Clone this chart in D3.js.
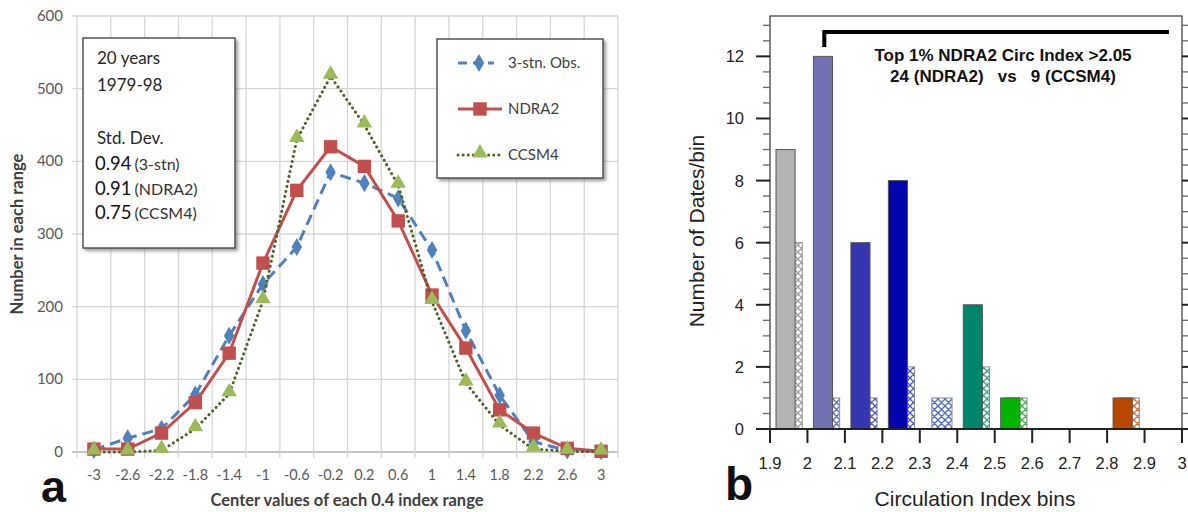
<!DOCTYPE html>
<html>
<head>
<meta charset="utf-8">
<script src="https://cdnjs.cloudflare.com/ajax/libs/d3/7.8.5/d3.min.js"></script>
<style>
  body { margin: 0; background: #fff; }
</style>
</head>
<body>
<div id="chart"></div>
<script>

// ---------------- DATA (panel a) ----------------
var categories = ['-3', '-2.6', '-2.2', '-1.8', '-1.4', '-1', '-0.6', '-0.2', '0.2', '0.6', '1', '1.4', '1.8', '2.2', '2.6', '3'];
var obsValues = [3, 19, 32, 79, 160, 231, 282, 385, 370, 349, 278, 167, 78, 14, 2, 1];
var ndra2Values = [4, 4, 26, 68, 136, 260, 360, 420, 393, 318, 216, 143, 58, 26, 5, 1];
var ccsm4Values = [0, 0, 2, 32, 80, 208, 430, 517, 450, 367, 207, 95, 37, 4, 1, 0];
var seriesNames = ['3-stn. Obs.', 'NDRA2', 'CCSM4'];
var leftYTicks = [0, 100, 200, 300, 400, 500, 600];
var boxLines = ['20 years', '1979-98', '', 'Std. Dev.'];
var stdDevValues = ['0.94', '0.91', '0.75'];
var stdDevNames = ['(3-stn)', '(NDRA2)', '(CCSM4)'];

// ---------------- DATA (panel b) ----------------
var binStarts = [1.9, 2.0, 2.1, 2.2, 2.3, 2.4, 2.5, 2.8];
var ndra2Counts = [9, 12, 6, 8, 0, 4, 1, 1];
var ccsm4Counts = [6, 1, 1, 2, 1, 2, 1, 1];
var rightXTicks = [1.9, 2.0, 2.1, 2.2, 2.3, 2.4, 2.5, 2.6, 2.7, 2.8, 2.9, 3.0];
var rightXLabels = ['1.9', '2', '2.1', '2.2', '2.3', '2.4', '2.5', '2.6', '2.7', '2.8', '2.9', '3'];
var rightYTicks = [0, 2, 4, 6, 8, 10, 12];
var bracketRange = [2.045, 2.965];
var noteLines = ['Top 1% NDRA2 Circ Index >2.05', '24 (NDRA2)   vs   9 (CCSM4)'];

// Exposed variables
var attrs = {
  svgWidth: 1188,
  svgHeight: 512,
  leftFont: 'Lato, "Open Sans", sans-serif',
  rightFont: '"Liberation Sans", Arial, sans-serif',
  gridColor: '#d6d6d6',
  leftTextFill: '#595959',
  seriesColors: ['#4f81bd', '#c0504d', '#9bbb59'],
  lineColors: ['#4f81bd', '#c0504d', '#4f6228'],
  lineDash: ['11,6', null, '0.1,5'],
  barColors: ['#b3b3b3', '#7272b2', '#3535b0', '#0404ae', '#4a6cc4', '#00846a', '#00b400', '#b84800'],
  hatchColors: ['#a0a0a0', '#5a66c2', '#4a58c0', '#4a58c0', '#4a6cc4', '#3aa07e', '#3cb43c', '#c8703e']
};

//----------- PROTOTYPE FUNCTIONS ----------------------
d3.selection.prototype.patternify = function (params) {
  var container = this;
  var selector = params.selector;
  var elementTag = params.tag;
  var data = params.data || [selector];

  var selection = container.selectAll('.' + selector).data(data, (d, i) => i);
  selection.exit().remove();
  selection = selection.enter().append(elementTag).merge(selection);
  selection.attr('class', selector);
  return selection;
};

var svg = d3.select('#chart').patternify({ tag: 'svg', selector: 'svg-chart-container' })
  .attr('width', attrs.svgWidth)
  .attr('height', attrs.svgHeight);

var defs = svg.patternify({ tag: 'defs', selector: 'defs' });

// drop shadow for the excel boxes
var shadow = defs.patternify({ tag: 'filter', selector: 'shadow' })
  .attr('id', 'shadow')
  .attr('x', '-10%').attr('y', '-10%').attr('width', '130%').attr('height', '130%');
shadow.patternify({ tag: 'feDropShadow', selector: 'drop' })
  .attr('dx', 2.5).attr('dy', 2.5).attr('stdDeviation', 1.8)
  .attr('flood-color', '#777').attr('flood-opacity', 0.7);

//######################## PANEL A ########################
drawLeft();

function drawLeft() {
  var calc = {};
  calc.left = 77;
  calc.right = 618;
  calc.top = 16;
  calc.bottom = 452;

  var scales = {};
  scales.x = d3.scaleBand().domain(categories).range([calc.left, calc.right]);
  scales.y = d3.scaleLinear().domain([0, 600]).range([calc.bottom, calc.top]);

  var chart = svg.patternify({ tag: 'g', selector: 'left-chart' })
    .attr('font-family', attrs.leftFont);

  //horizontal grid
  chart.patternify({ tag: 'line', selector: 'h-grid', data: leftYTicks })
    .attr('x1', calc.left - 5).attr('x2', calc.right)
    .attr('y1', d => scales.y(d)).attr('y2', d => scales.y(d))
    .attr('stroke', d => d === 0 ? '#b0b0b0' : attrs.gridColor)
    .attr('stroke-width', 1.3);

  //vertical grid on category boundaries
  var bounds = categories.map(c => scales.x(c)).concat([calc.right]);
  chart.patternify({ tag: 'line', selector: 'v-grid', data: bounds })
    .attr('x1', d => d).attr('x2', d => d)
    .attr('y1', calc.top).attr('y2', calc.bottom + 6)
    .attr('stroke', attrs.gridColor)
    .attr('stroke-width', 1.3);

  //y labels
  chart.patternify({ tag: 'text', selector: 'y-label', data: leftYTicks })
    .attr('x', 63).attr('y', d => scales.y(d) + 5)
    .attr('text-anchor', 'end')
    .attr('font-size', 15)
    .attr('fill', attrs.leftTextFill)
    .text(d => d);

  //x labels
  chart.patternify({ tag: 'text', selector: 'x-label', data: categories })
    .attr('x', d => scales.x(d) + scales.x.bandwidth() / 2)
    .attr('y', 480)
    .attr('text-anchor', 'middle')
    .attr('font-size', 14.5)
    .attr('fill', attrs.leftTextFill)
    .text(d => d);

  //axis titles
  chart.patternify({ tag: 'text', selector: 'y-title' })
    .attr('transform', 'translate(23,234) rotate(-90)')
    .attr('text-anchor', 'middle')
    .attr('font-size', 16.5)
    .attr('font-weight', 'bold')
    .attr('fill', '#404040')
    .text('Number in each range');

  chart.patternify({ tag: 'text', selector: 'x-title' })
    .attr('x', 347).attr('y', 506)
    .attr('text-anchor', 'middle')
    .attr('font-size', 16.5)
    .attr('font-weight', 'bold')
    .attr('fill', '#404040')
    .text('Center values of each 0.4 index range');

  chart.patternify({ tag: 'text', selector: 'panel-label' })
    .attr('x', 41).attr('y', 501.5)
    .attr('font-family', attrs.rightFont)
    .attr('font-size', 45)
    .attr('font-weight', 'bold')
    .attr('fill', '#111')
    .text('a');

  //series
  var symbols = [d3.symbolDiamond, d3.symbolSquare, d3.symbolTriangle];
  var symbolSizes = [95, 180, 105];
  var series = [obsValues, ndra2Values, ccsm4Values].map((values, i) => ({ values: values, index: i }));

  var line = d3.line()
    .x((d, i) => scales.x(categories[i]) + scales.x.bandwidth() / 2)
    .y(d => scales.y(d));

  var seriesGroups = chart.patternify({ tag: 'g', selector: 'series', data: series });

  seriesGroups.patternify({ tag: 'path', selector: 'series-line', data: d => [d] })
    .attr('d', d => line(d.values))
    .attr('fill', 'none')
    .attr('stroke', d => attrs.lineColors[d.index])
    .attr('stroke-width', 3)
    .attr('stroke-linecap', d => d.index === 2 ? 'round' : 'butt')
    .attr('stroke-dasharray', d => attrs.lineDash[d.index]);

  seriesGroups.patternify({ tag: 'path', selector: 'marker', data: d => d.values.map(v => ({ v: v, index: d.index })) })
    .attr('transform', (d, i) => 'translate(' + (scales.x(categories[i]) + scales.x.bandwidth() / 2) + ',' + (scales.y(d.v) - (d.index === 2 ? 2 : 0)) + ')')
    .attr('d', d => d3.symbol().type(symbols[d.index]).size(symbolSizes[d.index])())
    .attr('fill', d => attrs.seriesColors[d.index]);

  //text box
  chart.patternify({ tag: 'rect', selector: 'info-box' })
    .attr('x', 83).attr('y', 38).attr('width', 152).attr('height', 210)
    .attr('fill', '#fff').attr('stroke', '#3a3a3a').attr('stroke-width', 1.3)
    .attr('filter', 'url(#shadow)');

  chart.patternify({ tag: 'text', selector: 'info-line', data: boxLines })
    .attr('x', 97).attr('y', (d, i) => 64 + i * 26.5)
    .attr('font-size', 17)
    .attr('fill', '#262626')
    .text(d => d);

  var sdText = chart.patternify({ tag: 'text', selector: 'sd-line', data: stdDevValues })
    .attr('x', 95).attr('y', (d, i) => 170 + i * 24.5)
    .attr('fill', '#111');
  sdText.patternify({ tag: 'tspan', selector: 'sd-val', data: d => [d] })
    .attr('font-size', 18.5).text(d => d);
  sdText.patternify({ tag: 'tspan', selector: 'sd-name', data: (d, i) => [stdDevNames[i]] })
    .attr('font-size', 16).attr('fill', '#333').attr('dx', 3).text(d => d);

  //legend
  chart.patternify({ tag: 'rect', selector: 'legend-box' })
    .attr('x', 437).attr('y', 39).attr('width', 166).attr('height', 139)
    .attr('fill', '#fff').attr('stroke', '#3a3a3a').attr('stroke-width', 1.3)
    .attr('filter', 'url(#shadow)');

  var legendItems = chart.patternify({ tag: 'g', selector: 'legend-item', data: seriesNames })
    .attr('transform', (d, i) => 'translate(0,' + (63 + i * 46) + ')');

  legendItems.patternify({ tag: 'line', selector: 'legend-line', data: (d, i) => [i] })
    .attr('x1', 458).attr('x2', d => d === 0 ? 494 : 502)
    .attr('stroke', d => attrs.lineColors[d])
    .attr('stroke-width', 3)
    .attr('stroke-linecap', d => d === 2 ? 'round' : 'butt')
    .attr('stroke-dasharray', d => d === 0 ? '9,6' : attrs.lineDash[d]);

  legendItems.patternify({ tag: 'path', selector: 'legend-marker', data: (d, i) => [i] })
    .attr('transform', d => 'translate(' + (d === 0 ? 479 : 480) + ',' + (d === 2 ? -2 : 0) + ')')
    .attr('d', d => d3.symbol().type(symbols[d]).size(symbolSizes[d])())
    .attr('fill', d => attrs.seriesColors[d]);

  legendItems.patternify({ tag: 'text', selector: 'legend-text', data: d => [d] })
    .attr('x', 508).attr('y', 5)
    .attr('font-size', 15)
    .attr('fill', '#404040')
    .text(d => d);
}

//######################## PANEL B ########################
drawRight();

function drawRight() {
  var calc = {};
  calc.left = 770;
  calc.right = 1182;
  calc.top = 16;
  calc.bottom = 429;
  calc.solidFrom = 0.016;
  calc.solidTo = 0.067;
  calc.hatchFrom = 0.032;
  calc.hatchTo = 0.086;

  var scales = {};
  scales.x = d3.scaleLinear().domain([1.9, 3.0]).range([calc.left, calc.right]);
  scales.y = d3.scaleLinear().domain([0, 13.3]).range([calc.bottom, calc.top]);

  var chart = svg.patternify({ tag: 'g', selector: 'right-chart' })
    .attr('font-family', attrs.rightFont);

  //hatch patterns
  var patterns = defs.patternify({ tag: 'pattern', selector: 'hatch', data: attrs.hatchColors })
    .attr('id', (d, i) => 'hatch' + i)
    .attr('patternUnits', 'userSpaceOnUse')
    .attr('width', 7).attr('height', 7);
  patterns.patternify({ tag: 'rect', selector: 'hatch-bg', data: d => [d] })
    .attr('width', 7).attr('height', 7).attr('fill', '#fff');
  patterns.patternify({ tag: 'path', selector: 'hatch-lines', data: d => [d] })
    .attr('d', 'M0,0L7,7M7,0L0,7M-1,6L1,8M6,-1L8,1M-1,1L1,-1M6,8L8,6')
    .attr('stroke', d => d)
    .attr('stroke-width', 1.3);

  var bins = binStarts.map((b, i) => ({ bin: b, ndra2: ndra2Counts[i], ccsm4: ccsm4Counts[i], index: i }));

  //hatched bars (CCSM4) behind
  chart.patternify({ tag: 'rect', selector: 'hatch-bar', data: bins.filter(d => d.ccsm4 > 0) })
    .attr('x', d => scales.x(d.bin + calc.hatchFrom))
    .attr('width', d => scales.x(d.bin + calc.hatchTo) - scales.x(d.bin + calc.hatchFrom))
    .attr('y', d => scales.y(d.ccsm4))
    .attr('height', d => scales.y(0) - scales.y(d.ccsm4))
    .attr('fill', d => 'url(#hatch' + d.index + ')')
    .attr('stroke', '#8a8a8a')
    .attr('stroke-width', 1);

  //solid bars (NDRA2)
  chart.patternify({ tag: 'rect', selector: 'solid-bar', data: bins.filter(d => d.ndra2 > 0) })
    .attr('x', d => scales.x(d.bin + calc.solidFrom))
    .attr('width', d => scales.x(d.bin + calc.solidTo) - scales.x(d.bin + calc.solidFrom))
    .attr('y', d => scales.y(d.ndra2))
    .attr('height', d => scales.y(0) - scales.y(d.ndra2))
    .attr('fill', d => attrs.barColors[d.index])
    .attr('stroke', '#555')
    .attr('stroke-width', 1);

  //frame
  chart.patternify({ tag: 'rect', selector: 'frame' })
    .attr('x', calc.left).attr('y', calc.top)
    .attr('width', calc.right - calc.left).attr('height', calc.bottom - calc.top)
    .attr('fill', 'none').attr('stroke', '#444').attr('stroke-width', 1.3);

  chart.patternify({ tag: 'line', selector: 'x-axis-line' })
    .attr('x1', calc.left).attr('x2', calc.right)
    .attr('y1', calc.bottom).attr('y2', calc.bottom)
    .attr('stroke', '#222').attr('stroke-width', 2);

  //y ticks both sides
  var minorTicks = d3.range(0, 13.3, 0.5).filter(v => v % 2 !== 0);
  var yTicks = rightYTicks.map(v => ({ v: v, len: 14 })).concat(minorTicks.map(v => ({ v: v, len: 7 })));

  chart.patternify({ tag: 'line', selector: 'y-tick-left', data: yTicks })
    .attr('x1', d => calc.left - d.len).attr('x2', calc.left)
    .attr('y1', d => scales.y(d.v)).attr('y2', d => scales.y(d.v))
    .attr('stroke', d => d.len > 10 ? '#222' : '#666')
    .attr('stroke-width', d => d.len > 10 ? 2 : 1.3);

  chart.patternify({ tag: 'line', selector: 'y-tick-right', data: yTicks })
    .attr('x1', calc.right).attr('x2', d => calc.right + d.len)
    .attr('y1', d => scales.y(d.v)).attr('y2', d => scales.y(d.v))
    .attr('stroke', d => d.len > 10 ? '#222' : '#666')
    .attr('stroke-width', d => d.len > 10 ? 2 : 1.3);

  chart.patternify({ tag: 'text', selector: 'y-label', data: rightYTicks })
    .attr('x', 744).attr('y', d => scales.y(d) + 6)
    .attr('text-anchor', 'end')
    .attr('font-size', 16.5)
    .attr('fill', '#222')
    .text(d => d);

  //x ticks
  chart.patternify({ tag: 'line', selector: 'x-tick', data: rightXTicks })
    .attr('x1', d => scales.x(d)).attr('x2', d => scales.x(d))
    .attr('y1', calc.bottom).attr('y2', calc.bottom + 14)
    .attr('stroke', '#222').attr('stroke-width', 2);

  chart.patternify({ tag: 'text', selector: 'x-label', data: rightXTicks })
    .attr('x', d => scales.x(d)).attr('y', 469)
    .attr('text-anchor', 'middle')
    .attr('font-size', 16.5)
    .attr('fill', '#222')
    .text((d, i) => rightXLabels[i]);

  //titles
  chart.patternify({ tag: 'text', selector: 'y-title' })
    .attr('transform', 'translate(704,231) rotate(-90)')
    .attr('text-anchor', 'middle')
    .attr('font-size', 21)
    .attr('fill', '#222')
    .text('Number of Dates/bin');

  chart.patternify({ tag: 'text', selector: 'x-title' })
    .attr('x', 975).attr('y', 506)
    .attr('text-anchor', 'middle')
    .attr('font-size', 21)
    .attr('fill', '#222')
    .text('Circulation Index bins');

  chart.patternify({ tag: 'text', selector: 'panel-label' })
    .attr('x', 725).attr('y', 500)
    .attr('font-size', 46)
    .attr('font-weight', 'bold')
    .attr('fill', '#111')
    .text('b');

  //bracket and note
  chart.patternify({ tag: 'path', selector: 'bracket' })
    .attr('d', 'M' + scales.x(bracketRange[0]) + ',47V32H' + scales.x(bracketRange[1]))
    .attr('fill', 'none')
    .attr('stroke', '#000')
    .attr('stroke-width', 4);

  chart.patternify({ tag: 'text', selector: 'note', data: noteLines })
    .attr('x', 1003).attr('y', (d, i) => 61 + i * 21)
    .attr('text-anchor', 'middle')
    .attr('font-size', 17)
    .attr('font-weight', 'bold')
    .attr('fill', '#111')
    .style('white-space', 'pre')
    .text(d => d);
}

</script>
</body>
</html>
